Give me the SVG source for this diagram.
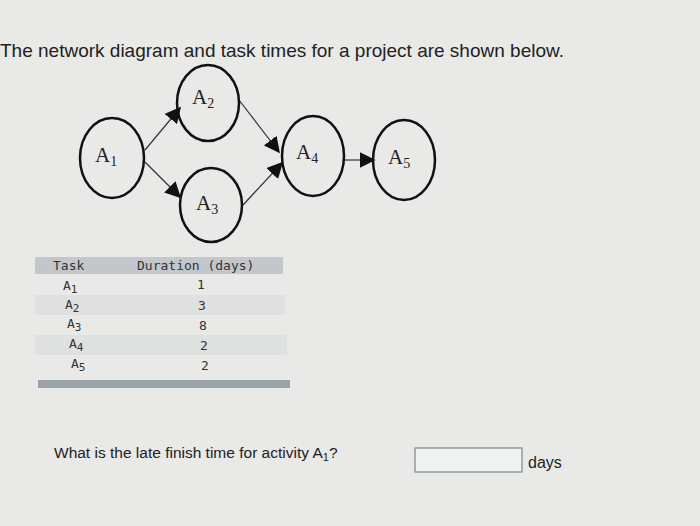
<svg xmlns="http://www.w3.org/2000/svg" width="700" height="526" viewBox="0 0 700 526">
<defs>
<style>
.n{fill:none;stroke:#111;stroke-width:2.5}
.nt{font-family:"Liberation Serif",serif;font-size:21px;fill:#222}
.sub{font-size:14px}
.c{stroke:#333;stroke-width:1.2;fill:none}
.m{font-family:"DejaVu Sans Mono",monospace;font-size:13px;fill:#333}
.s{font-family:"Liberation Sans",sans-serif;fill:#222}
</style>
<marker id="a" viewBox="0 0 10 10" refX="9" refY="5" markerWidth="16" markerHeight="16" orient="auto" markerUnits="userSpaceOnUse"><path d="M0,0L10,5L0,10z" fill="#111"/></marker>
</defs>
<rect width="700" height="526" fill="#e9e9e7"/>
<text x="0" y="57" class="s" font-size="19">The network diagram and task times for a project are shown below.</text>
<g id="connectors">
<line class="c" x1="145" y1="150" x2="180" y2="108" marker-end="url(#a)"/>
<line class="c" x1="145" y1="162" x2="180" y2="197" marker-end="url(#a)"/>
<line class="c" x1="239" y1="100" x2="279" y2="152" marker-end="url(#a)"/>
<line class="c" x1="243" y1="205" x2="282" y2="163" marker-end="url(#a)"/>
<line class="c" x1="343" y1="160" x2="374" y2="160" marker-end="url(#a)"/>
</g>
<g id="A1"><ellipse class="n" cx="112" cy="158" rx="32" ry="40"/><text class="nt" x="95" y="162">A<tspan class="sub" dy="4">1</tspan></text></g>
<g id="A2"><ellipse class="n" cx="208" cy="103" rx="31" ry="38"/><text class="nt" x="192" y="104">A<tspan class="sub" dy="4">2</tspan></text></g>
<g id="A3"><ellipse class="n" cx="211" cy="205" rx="31" ry="37"/><text class="nt" x="196" y="210">A<tspan class="sub" dy="4">3</tspan></text></g>
<g id="A4"><ellipse class="n" cx="313" cy="156" rx="31" ry="40"/><text class="nt" x="296" y="159">A<tspan class="sub" dy="4">4</tspan></text></g>
<g id="A5"><ellipse class="n" cx="404" cy="160" rx="31" ry="40"/><text class="nt" x="388" y="164">A<tspan class="sub" dy="4">5</tspan></text></g>
<g id="table">
<rect x="35" y="257" width="248" height="17" fill="#c3c6cb"/>
<rect x="35" y="295" width="250" height="20" fill="#dfe0e0"/>
<rect x="35" y="335" width="252" height="20" fill="#dfe0e0"/>
<rect x="38" y="380" width="252" height="8" fill="#9da3aa"/>
<text class="m" x="53" y="270">Task</text>
<text class="m" x="137" y="270">Duration (days)</text>
<text class="m" x="63" y="290">A<tspan font-size="11" dy="3">1</tspan></text>
<text class="m" x="65" y="309">A<tspan font-size="11" dy="3">2</tspan></text>
<text class="m" x="67" y="328">A<tspan font-size="11" dy="3">3</tspan></text>
<text class="m" x="69" y="348">A<tspan font-size="11" dy="3">4</tspan></text>
<text class="m" x="71" y="368">A<tspan font-size="11" dy="3">5</tspan></text>
<text class="m" x="197" y="289">1</text>
<text class="m" x="198" y="310">3</text>
<text class="m" x="199" y="330">8</text>
<text class="m" x="200" y="350">2</text>
<text class="m" x="201" y="370">2</text>
</g>
<text class="s" x="54" y="458" font-size="15.5">What is the late finish time for activity A<tspan font-size="11" dy="3">1</tspan><tspan dy="-3">?</tspan></text>
<rect x="415" y="448" width="107" height="24" fill="#f1f3f1" stroke="#7a8a86" stroke-width="1.2"/>
<text class="s" x="528" y="468" font-size="16">days</text>
</svg>
